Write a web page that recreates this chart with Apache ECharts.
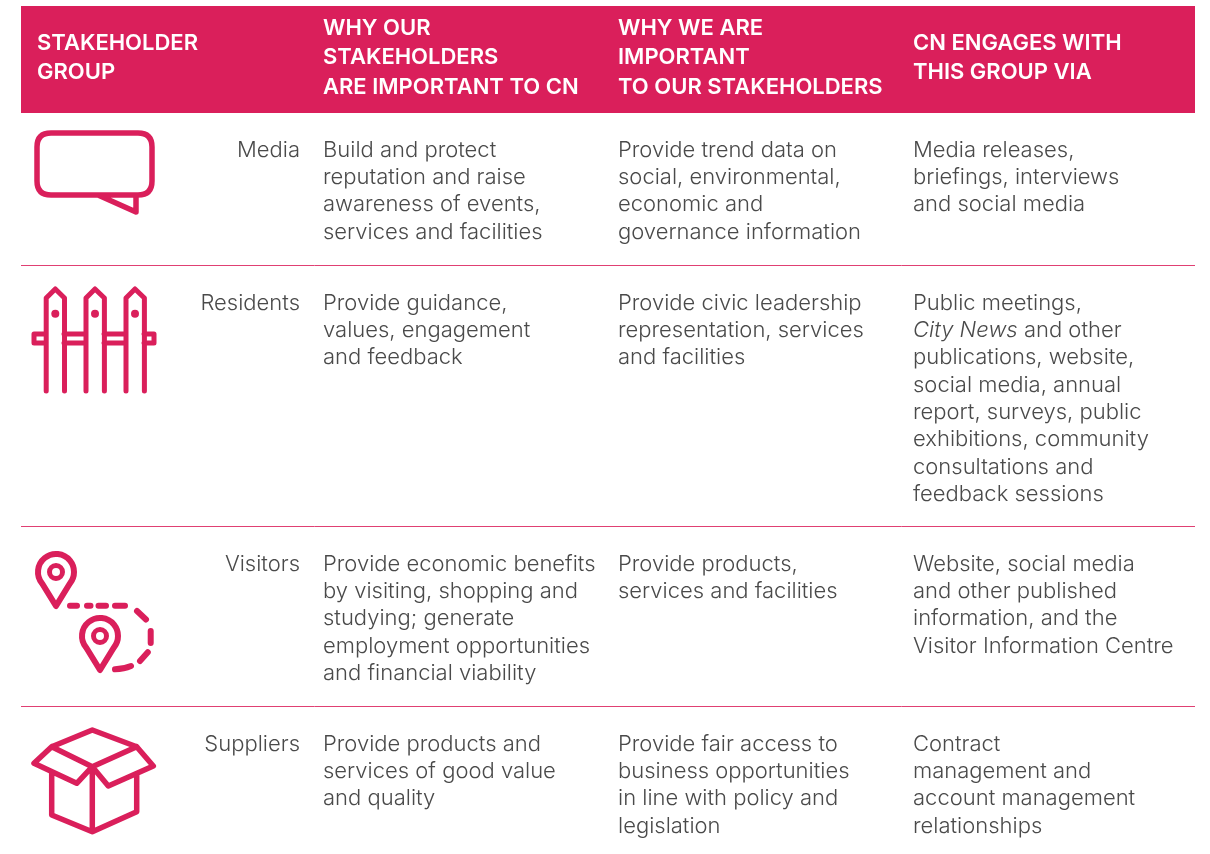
<!DOCTYPE html>
<html>
<head>
<meta charset="utf-8">
<style>
  html, body { margin: 0; padding: 0; background: #fff; }
  #container { width: 1210px; height: 854px; }
</style>
<script src="https://cdn.jsdelivr.net/npm/echarts@6/dist/echarts.min.js"></script>
</head>
<body>
<div id="container"></div>
<script>
const headers = [
    'STAKEHOLDER\nGROUP',
    'WHY OUR\nSTAKEHOLDERS\nARE IMPORTANT TO CN',
    'WHY WE ARE\nIMPORTANT\nTO OUR STAKEHOLDERS',
    'CN ENGAGES WITH\nTHIS GROUP VIA'
];
const groups = ['Media', 'Residents', 'Visitors', 'Suppliers'];
const whyImportantToCN = [
    'Build and protect\nreputation and raise\nawareness of events,\nservices and facilities',
    'Provide guidance,\nvalues, engagement\nand feedback',
    'Provide economic benefits\nby visiting, shopping and\nstudying; generate\nemployment opportunities\nand financial viability',
    'Provide products and\nservices of good value\nand quality'
];
const whyImportantToThem = [
    'Provide trend data on\nsocial, environmental,\neconomic and\ngovernance information',
    'Provide civic leadership\nrepresentation, services\nand facilities',
    'Provide products,\nservices and facilities',
    'Provide fair access to\nbusiness opportunities\nin line with policy and\nlegislation'
];
const engagesVia = [
    'Media releases,\nbriefings, interviews\nand social media',
    'Public meetings,\n{i|City News} and other\npublications, website,\nsocial media, annual\nreport, surveys, public\nexhibitions, community\nconsultations and\nfeedback sessions',
    'Website, social media\nand other published\ninformation, and the\nVisitor Information Centre',
    'Contract\nmanagement and\naccount management\nrelationships'
];

const pink = '#da1f5b';
const ink = '#4a4a4a';
const font = 'Inter';

const rowTop = [136.6, 289.6, 550.6, 730.6];
const dividers = [265.5, 526.5, 706.5];
const colX = [323, 618, 913];
const lineH = 27.3;

const iconPaths = [
    // speech bubble
    'M98 195H51Q37 195 37 181V147Q37 133 51 133H138Q152 133 152 147V181Q152 195 138 195H136V212ZM136 195H98',
    // fence
    'M46.2 391V298L55.3 289L64.5 298V391M86 391V298L95 289L104.4 298V391M126 391V298L135 289L144.4 298V391' +
    'M46 334H34V343H46M64 334H86M64 343H86M104 334H126M104 343H126M144 334H154V343H144',
    // pins and dashed route
    'M56 606L42 583.3A18 18 0 1 1 70 583.3ZM100 670L86 647.3A18 18 0 1 1 114 647.3Z' +
    'M70 605.7H77M87 605.7H90.5M98.5 605.7H106M115 605.7H125M137 611L146 619.5M150.7 631V643M147.8 652.2L140 661M131 666Q124 669 115 669.3',
    // box
    'M92.3 730L136.7 746.7L92.3 766.7L51.7 746.7ZM51.7 746.7L34 763.3L76.7 783.3L92.3 766.7M136.7 746.7L153.3 766L108.3 786L92.3 766.7' +
    'M51.7 771.7V815L92.3 831.7L136.7 811.7V775M92.3 766.7V831.7'
];
const iconStroke = [5.5, 5, 6, 5.5];
const pinHoles = [[56, 572], [100, 636]];
const fenceDots = [[55.3, 313.7], [95, 313.7], [135, 313.7]];

const elements = [];

elements.push({
    type: 'rect',
    shape: { x: 21, y: 6, width: 1174, height: 107 },
    style: { fill: pink }
});

// header text
const headerPos = [[37, 28.5], [323, 13.5], [618, 13.5], [913, 28.5]];
headers.forEach((text, i) => {
    elements.push({
        type: 'text',
        x: headerPos[i][0],
        y: headerPos[i][1],
        style: { text, fill: '#fff', font: '600 22px ' + font, lineHeight: 29.5, verticalAlign: 'top' }
    });
});

dividers.forEach(y => {
    elements.push({
        type: 'line',
        shape: { x1: 21, y1: y, x2: 1195, y2: y },
        style: { stroke: pink, lineWidth: 1, opacity: 0.85 }
    });
});

// body rows
groups.forEach((name, r) => {
    elements.push({
        type: 'text',
        x: 300,
        y: rowTop[r],
        style: { text: name, fill: ink, font: '300 22px ' + font, align: 'right', lineHeight: lineH, verticalAlign: 'top' }
    });
    [whyImportantToCN, whyImportantToThem, engagesVia].forEach((col, c) => {
        elements.push({
            type: 'text',
            x: colX[c],
            y: rowTop[r],
            style: {
                text: col[r],
                fill: ink,
                font: '300 22px ' + font,
                lineHeight: lineH,
                verticalAlign: 'top',
                rich: { i: { font: 'italic 300 22px ' + font, fill: ink, lineHeight: lineH } }
            }
        });
    });
});

pinHoles.forEach(p => {
    elements.push({
        type: 'circle',
        shape: { cx: p[0], cy: p[1], r: 6.5 },
        style: { fill: null, stroke: pink, lineWidth: 5 }
    });
});
fenceDots.forEach(p => {
    elements.push({
        type: 'circle',
        shape: { cx: p[0], cy: p[1], r: 4 },
        style: { fill: pink }
    });
});

const myChart = echarts.init(document.getElementById('container'));
myChart.setOption({
    backgroundColor: '#fff',
    animation: false,
    graphic: { elements },
    series: [
        {
            // icons, drawn as a custom series since graphic has no raw path type
            type: 'custom',
            coordinateSystem: 'none',
            silent: true,
            data: groups,
            renderItem: params => ({
                type: 'path',
                shape: { pathData: iconPaths[params.dataIndex] },
                style: { fill: 'none', stroke: pink, lineWidth: iconStroke[params.dataIndex], lineCap: 'round', lineJoin: 'round' }
            })
        }
    ]
});
</script>
</body>
</html>
